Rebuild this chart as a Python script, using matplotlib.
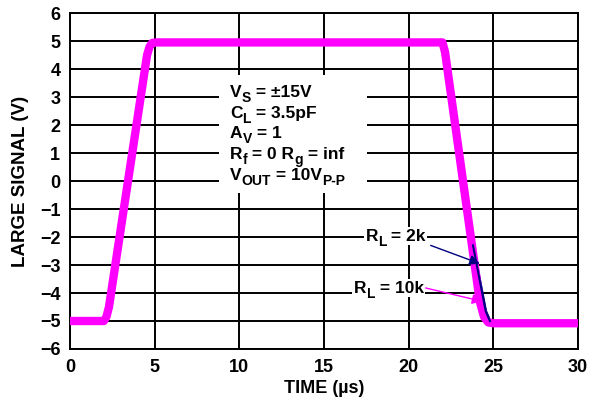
import matplotlib.pyplot as plt
from matplotlib.patches import Rectangle

plt.rcParams['font.family'] = 'Liberation Sans'
plt.rcParams['font.weight'] = 'bold'

# RL = 10k trace (corner points)
t_10k = [0, 2.0, 2.15, 2.3, 4.55, 4.7, 4.85, 5.1, 22.0, 22.15, 24.2, 24.45, 24.7, 25.0, 30]
v_10k = [-5.0, -5.0, -4.85, -4.5, 4.5, 4.8, 4.93, 4.95, 4.95, 4.6, -4.3, -4.85, -5.05, -5.08, -5.08]

# RL = 2k trace
t_2k = [0, 2.0, 2.15, 2.3, 4.55, 4.7, 4.85, 5.1, 22.0, 22.15, 23.8, 24.55, 24.8, 25.0, 30]
v_2k = [-5.05, -5.05, -4.85, -4.5, 4.5, 4.8, 4.93, 4.95, 4.95, 4.6, -2.3, -4.65, -5.0, -5.08, -5.08]

# text pieces: (text, is_subscript)
conditions = [
    [('V', 0), ('S', 1), (' = ±15V', 0)],
    [('C', 0), ('L', 1), (' = 3.5pF', 0)],
    [('A', 0), ('V', 1), (' = 1', 0)],
    [('R', 0), ('f', 1), (' = 0 R', 0), ('g', 1), (' = inf', 0)],
    [('V', 0), ('OUT', 1), (' = 10V', 0), ('P-P', 1)],
]
label_2k = [('R', 0), ('L', 1), (' = 2k', 0)]
label_10k = [('R', 0), ('L', 1), (' = 10k', 0)]


def rich_text(ax, x, y, parts, size, bg=False):
    kw = dict(fontweight='bold', color='black')
    if bg:
        kw['bbox'] = dict(facecolor='white', edgecolor='none', pad=1)
    t = ax.text(x, y, parts[0][0], fontsize=size, va='baseline', ha='left', zorder=7, **kw)
    level = 0
    for i, (s, sub) in enumerate(parts[1:]):
        new = -3.6 if sub else 0
        fs = size * 0.8 if sub else size
        t = ax.annotate(s, xy=(1, 0), xycoords=t, xytext=(0, new - level),
                        textcoords='offset points', fontsize=fs, va='bottom', ha='left',
                        zorder=6.9 - i * 0.01, **kw)
        level = new
    return t


fig = plt.figure(figsize=(6, 4.03), dpi=100)
ax = fig.add_axes([0.1167, 0.134, 0.8466, 0.8337])

ax.set_xlim(0, 30)
ax.set_ylim(-6, 6)
ax.set_xticks(range(0, 31, 5))
ax.set_yticks(range(-6, 7))
ax.grid(True, color='black', linewidth=1.4)
ax.tick_params(length=0, labelsize=13, pad=7)
for s in ax.spines.values():
    s.set_linewidth(1.4)

ax.plot(t_2k, v_2k, color='#000080', linewidth=2, zorder=3)
ax.plot(t_10k, v_10k, color='#ff00ff', linewidth=6, zorder=4, solid_joinstyle='round')
ax.plot(t_2k[10:13], v_2k[10:13], color='#000080', linewidth=1.5, zorder=5)

# white box behind the test conditions
ax.add_patch(Rectangle((8.8, -0.43), 8.74, 4.22, facecolor='white', edgecolor='none', zorder=6))
for i, line in enumerate(conditions):
    rich_text(ax, 9.45, 3.0 - i * 0.74, line, 12.5)

rich_text(ax, 17.45, -2.13, label_2k, 12.5, bg=True)
rich_text(ax, 16.75, -3.99, label_10k, 12.5, bg=True)
ax.annotate('', xy=(24.2, -2.95), xytext=(21.3, -2.3), zorder=7,
            arrowprops=dict(arrowstyle='-|>', color='#000080', lw=1, mutation_scale=15,
                            shrinkA=0, shrinkB=0))
ax.annotate('', xy=(24.35, -4.3), xytext=(21.0, -3.82), zorder=7,
            arrowprops=dict(arrowstyle='-|>', color='#ff00ff', lw=1, mutation_scale=15,
                            shrinkA=0, shrinkB=0))

ax.set_xlabel('TIME (µs)', fontsize=13, fontweight='bold', labelpad=3)
ax.set_ylabel('LARGE SIGNAL (V)', fontsize=13.5, fontweight='bold', labelpad=8)

fig.savefig('out.png', dpi=100)
